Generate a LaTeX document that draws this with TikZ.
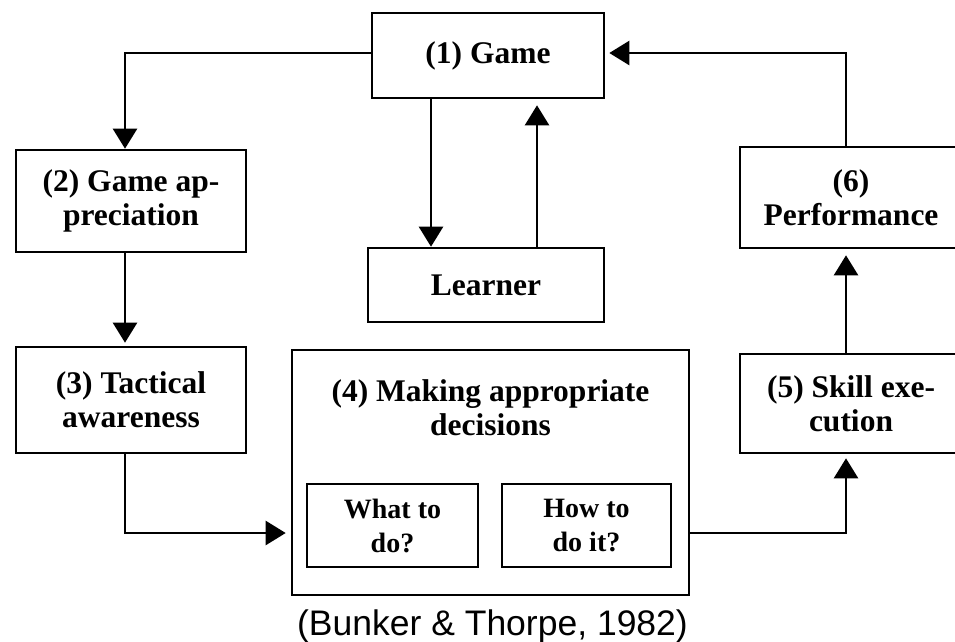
\documentclass[tikz,border=0pt]{standalone}
\usepackage{fontspec}
\setmainfont{Liberation Serif}
\newfontfamily\capfont{Liberation Sans}
\usetikzlibrary{arrows.meta}
\begin{document}
\begin{tikzpicture}[x=1pt,y=-1pt,
  box/.style={draw, line width=2.6pt, rectangle, inner sep=0pt, align=center,
    font=\bfseries\fontsize{31.5}{34}\selectfont},
  smallbox/.style={box, font=\bfseries\fontsize{28}{34}\selectfont},
  arr/.style={line width=2.4pt, -{Triangle[length=20pt,width=24pt]}}]
\useasboundingbox (0,0) rectangle (955,641);
\clip (0,0) rectangle (955,641);
\node[box, minimum width=232pt, minimum height=85pt] (g1) at (488,55.5) {(1) Game};
\node[box, minimum width=230pt, minimum height=102pt] (g2) at (131,201) {(2) Game ap-\\preciation};
\node[box, minimum width=236pt, minimum height=74pt] (lrn) at (486,285) {Learner};
\node[box, minimum width=222pt, minimum height=101pt] (perf) at (851,197.5) {(6)\\Performance};
\node[box, minimum width=230pt, minimum height=106pt] (tact) at (131,400) {(3) Tactical\\awareness};
\node[box, minimum width=397pt, minimum height=245pt] (mk) at (490.5,472.5) {};
\node[font=\bfseries\fontsize{31.5}{34}\selectfont, align=center, inner sep=0pt] (mkt) at (490.5,408) {(4) Making appropriate\\decisions};
\node[smallbox, minimum width=171pt, minimum height=83pt] (what) at (392.5,525.5) {What to\\do?};
\node[smallbox, minimum width=169pt, minimum height=83pt] (how) at (586.5,525.5) {How to\\do it?};
\node[box, minimum width=222pt, minimum height=99pt] (skill) at (851,403.5) {(5) Skill exe-\\cution};
\node[font=\capfont\fontsize{35.5}{40}\selectfont, anchor=base, inner sep=0pt] (cap) at (492.5,635) {(Bunker \& Thorpe, 1982)};
\coordinate (c1) at (431,0);
\coordinate (c2) at (537,0);
\coordinate (c3) at (846,0);
\coordinate (c4) at (125,0);
\coordinate (c5) at (0,533);
\coordinate (c6) at (0,53);
\draw[arr] (g1.west |- c6) -| (g2.north -| c4);
\draw[arr] (g1.south -| c1) -- (lrn.north -| c1);
\draw[arr, shorten >=6pt] (lrn.north -| c2) -- (g1.south -| c2);
\draw[arr, shorten >=4pt] (perf.north -| c3) |- (g1.east |- c6);
\draw[arr, shorten >=6pt] (skill.north -| c3) -- (perf.south -| c3);
\draw[arr, shorten >=4pt] (mk.east |- c5) -| (skill.south -| c3);
\draw[arr, shorten >=3pt] (g2.south -| c4) -- (tact.north -| c4);
\draw[arr, shorten >=5pt] (tact.south -| c4) |- (mk.west |- c5);
\end{tikzpicture}
\end{document}
